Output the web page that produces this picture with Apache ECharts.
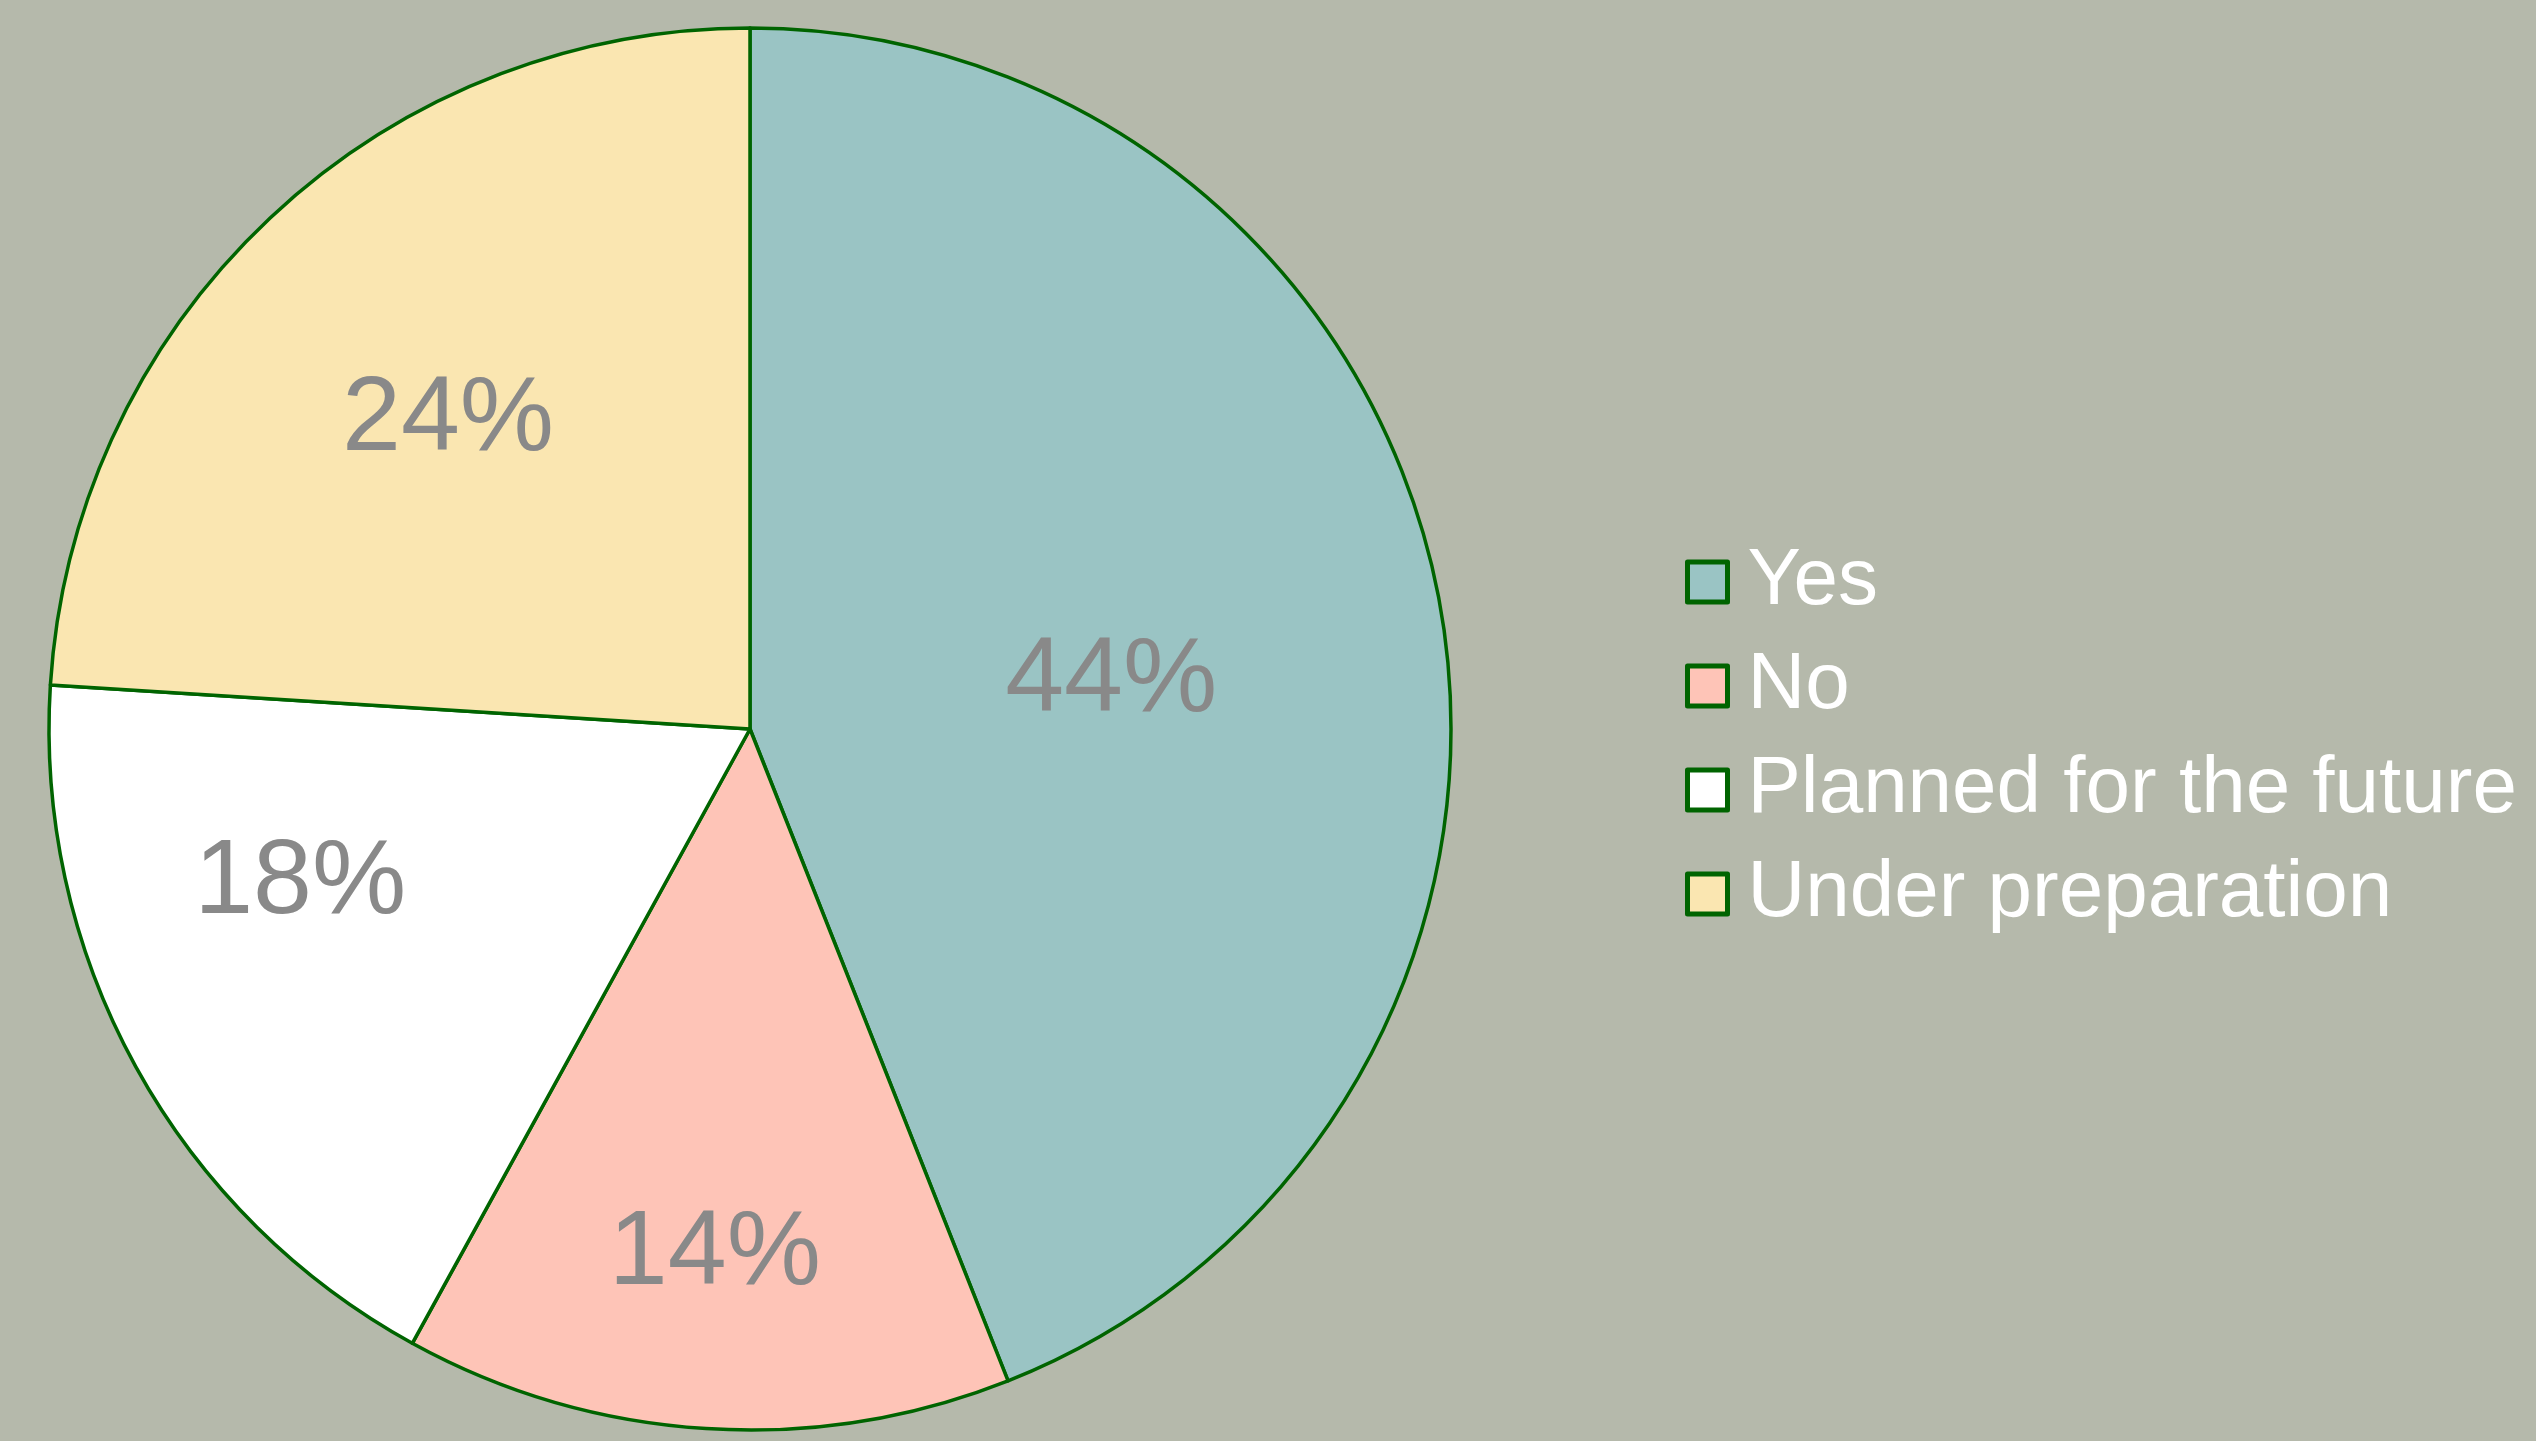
<!DOCTYPE html>
<html>
<head>
<meta charset="utf-8">
<script src="https://cdn.jsdelivr.net/npm/echarts@6/dist/echarts.min.js"></script>
<style>
  html, body { margin: 0; padding: 0; background: #b5b9ab; }
  #chart { width: 2536px; height: 1441px; }
</style>
</head>
<body>
<div id="chart"></div>
<script>
// data
const categories = ['Yes', 'No', 'Planned for the future', 'Under preparation']
const shares = [44, 14, 18, 24]
const sliceColors = ['#9ac4c4', '#fec4b7', '#ffffff', '#fae6b1']

// label nudges (px) away from the default mid-radius spot, per slice
const labelNudge = [[14, 19], [-13, 173], [-140, -16], [-60, -51]]

const chart = echarts.init(document.getElementById('chart'))

const option = {
  backgroundColor: '#b5b9ab',
  animation: false,
  legend: {
    orient: 'vertical',
    left: 1680,
    top: 537,
    itemWidth: 40,
    itemHeight: 40,
    itemGap: 24,
    icon: 'rect',
    selectedMode: false,
    data: categories,
    itemStyle: {
      borderColor: '#006400',
      borderWidth: 5
    },
    textStyle: {
      color: '#ffffff',
      fontSize: 80,
      lineHeight: 80,
      fontFamily: 'Liberation Sans, Arial, sans-serif',
      padding: [0, 0, 0, 15]
    }
  },
  series: [
    {
      type: 'pie',
      center: [750, 729],
      radius: 701,
      startAngle: 90,
      clockwise: true,
      itemStyle: {
        borderColor: '#006400',
        borderWidth: 3.5
      },
      label: {
        show: true,
        position: 'inside',
        formatter: '{c}%',
        color: '#898989',
        fontSize: 106,
        fontFamily: 'Liberation Sans, Arial, sans-serif'
      },
      labelLayout: function (params) {
        const n = labelNudge[params.dataIndex]
        return { dx: n[0], dy: n[1] }
      },
      emphasis: { disabled: true },
      data: categories.map((name, i) => ({
        name: name,
        value: shares[i],
        itemStyle: { color: sliceColors[i] }
      }))
    }
  ]
}

chart.setOption(option)
window.addEventListener('resize', () => chart.resize())
</script>
</body>
</html>
